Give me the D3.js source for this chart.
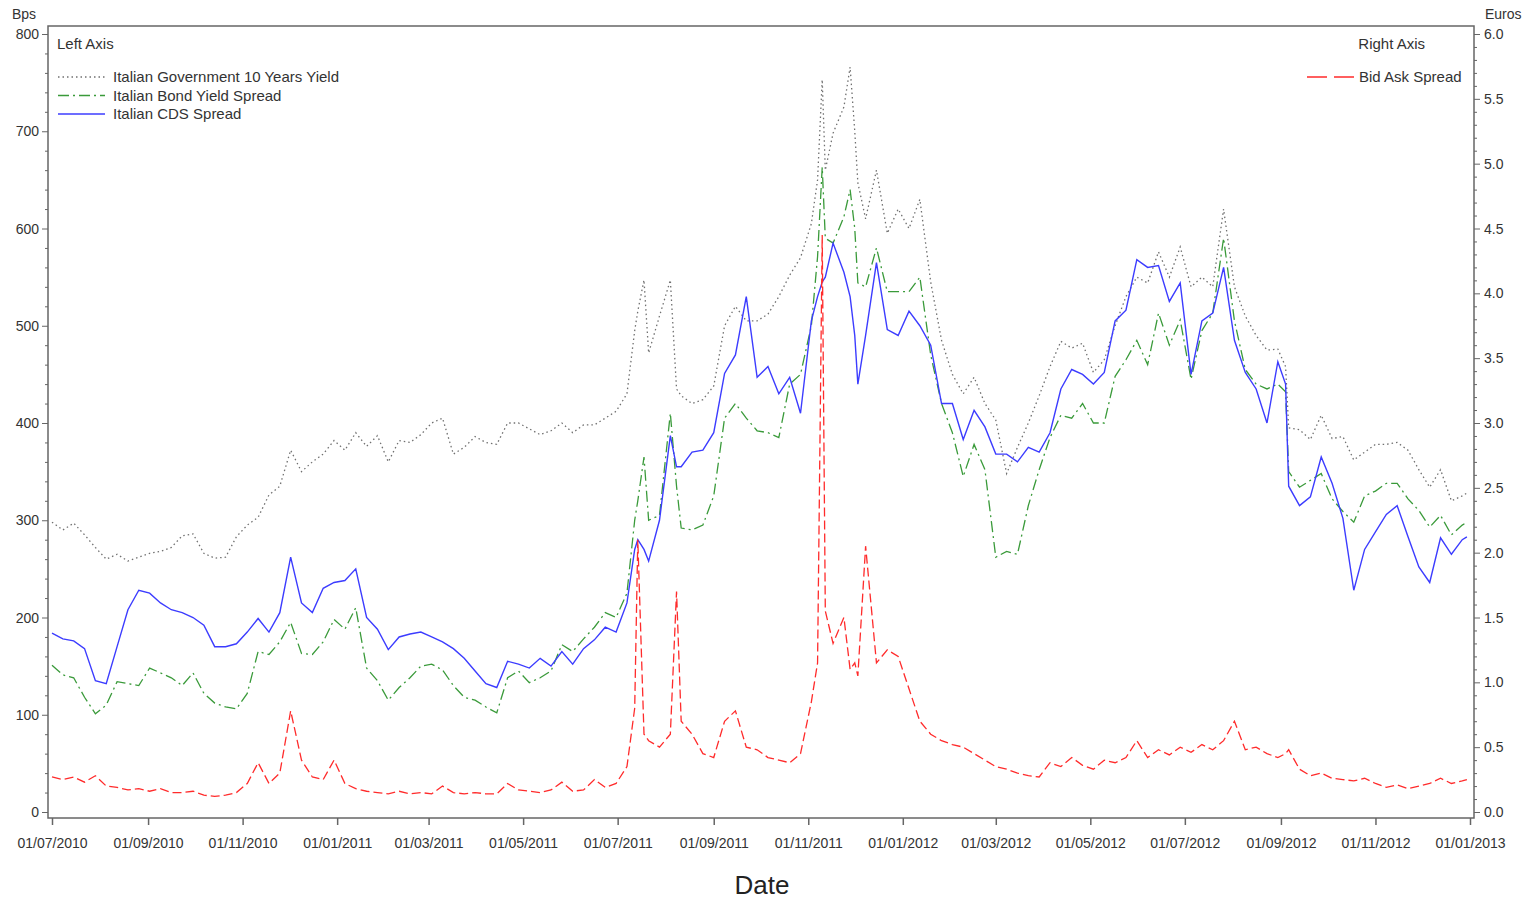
<!DOCTYPE html>
<html>
<head>
<meta charset="utf-8">
<script src="https://cdn.jsdelivr.net/npm/d3@7"></script>
<style>
  body { margin: 0; background: #fff; }
  svg { display: block; font-family: "Liberation Sans", Arial, sans-serif; }
</style>
</head>
<body>
<svg id="chart" width="1533" height="900"></svg>
<script>
// Data -----------------------------------------
var dates = [
  "2010-07-01","2010-07-08","2010-07-15","2010-07-22","2010-07-29","2010-08-05","2010-08-12","2010-08-19","2010-08-26","2010-09-02",
  "2010-09-09","2010-09-16","2010-09-23","2010-09-30","2010-10-07","2010-10-14","2010-10-21","2010-10-28","2010-11-04","2010-11-11",
  "2010-11-18","2010-11-25","2010-12-02","2010-12-09","2010-12-16","2010-12-23","2010-12-30","2011-01-06","2011-01-13","2011-01-20",
  "2011-01-27","2011-02-03","2011-02-10","2011-02-17","2011-02-24","2011-03-03","2011-03-10","2011-03-17","2011-03-24","2011-03-31",
  "2011-04-07","2011-04-14","2011-04-21","2011-04-28","2011-05-05","2011-05-12","2011-05-19","2011-05-26","2011-06-02","2011-06-09",
  "2011-06-16","2011-06-23","2011-06-30","2011-07-07","2011-07-12","2011-07-14","2011-07-18","2011-07-21","2011-07-28","2011-08-04",
  "2011-08-08","2011-08-11","2011-08-18","2011-08-25","2011-09-01","2011-09-08","2011-09-15","2011-09-22","2011-09-29","2011-10-06",
  "2011-10-13","2011-10-20","2011-10-27","2011-11-03","2011-11-07","2011-11-10","2011-11-12","2011-11-17","2011-11-24","2011-11-28",
  "2011-12-01","2011-12-03","2011-12-08","2011-12-15","2011-12-22","2011-12-29","2012-01-05","2012-01-12","2012-01-19","2012-01-26",
  "2012-02-02","2012-02-09","2012-02-16","2012-02-23","2012-03-01","2012-03-08","2012-03-15","2012-03-22","2012-03-29","2012-04-05",
  "2012-04-12","2012-04-19","2012-04-26","2012-05-03","2012-05-10","2012-05-17","2012-05-24","2012-05-31","2012-06-07","2012-06-14",
  "2012-06-21","2012-06-28","2012-07-05","2012-07-12","2012-07-19","2012-07-26","2012-08-02","2012-08-09","2012-08-16","2012-08-23",
  "2012-08-30","2012-09-04","2012-09-06","2012-09-13","2012-09-20","2012-09-27","2012-10-04","2012-10-11","2012-10-18","2012-10-25",
  "2012-11-01","2012-11-08","2012-11-15","2012-11-22","2012-11-29","2012-12-06","2012-12-13","2012-12-20","2012-12-27","2012-12-30"
];

// Bps, left axis
var govYield = [
  298,290,297,285,272,260,265,258,262,266,
  268,272,284,286,266,261,262,283,295,303,
  326,335,372,350,360,368,382,372,390,376,
  387,360,382,380,388,400,405,368,375,386,
  380,378,400,400,394,388,392,400,390,398,
  398,405,412,430,495,515,547,472,510,547,
  435,428,420,424,438,500,520,505,505,512,
  530,552,570,605,650,753,660,698,725,766,
  700,647,610,660,595,620,600,630,545,485,
  450,430,447,420,403,348,375,400,428,458,
  484,477,482,452,465,500,530,550,544,576,
  550,581,540,550,540,620,540,510,490,475,
  476,458,395,393,383,408,384,386,362,370,
  378,378,380,372,352,334,352,320,325,328
];
var bondSpread = [
  151,141,138,118,101,110,134,132,130,148,
  143,138,130,143,122,112,108,106,122,165,
  162,175,195,163,162,175,198,188,210,148,
  135,115,128,138,150,152,146,130,118,115,
  108,102,138,145,133,138,145,172,165,178,
  190,205,200,225,300,320,365,300,305,410,
  335,292,290,295,325,405,420,405,392,390,
  385,440,450,500,571,663,590,585,612,640,
  600,544,540,580,535,535,535,550,470,420,
  390,345,378,352,262,268,265,315,352,385,
  408,405,420,400,400,448,465,485,460,513,
  480,506,445,495,513,590,505,455,440,435,
  440,432,350,334,341,348,322,309,298,325,
  330,338,338,322,310,293,305,285,295,298
];
var cdsSpread = [
  184,178,176,168,135,132,170,208,228,225,
  215,208,205,200,192,170,170,173,185,199,
  185,205,262,215,205,230,236,238,250,200,
  188,167,180,183,185,180,175,168,158,145,
  132,128,155,152,148,158,150,165,152,168,
  177,190,185,215,270,280,270,258,300,387,
  355,355,370,372,390,451,470,530,447,458,
  430,447,410,505,530,545,550,585,555,530,
  490,440,490,565,496,490,515,500,480,420,
  420,383,413,396,368,368,360,375,370,390,
  435,455,450,440,452,505,516,568,560,562,
  525,544,450,505,513,560,485,452,435,400,
  463,440,335,315,324,365,338,302,228,270,
  288,306,315,283,252,236,282,265,280,283
];
// Euros, right axis
var bidAsk = [
  0.27,0.25,0.27,0.23,0.28,0.20,0.19,0.17,0.18,0.16,
  0.18,0.15,0.15,0.16,0.13,0.12,0.13,0.15,0.22,0.38,
  0.22,0.30,0.78,0.40,0.27,0.25,0.40,0.22,0.18,0.16,
  0.15,0.14,0.16,0.14,0.15,0.14,0.20,0.15,0.14,0.15,
  0.14,0.14,0.22,0.17,0.16,0.15,0.17,0.23,0.16,0.17,
  0.25,0.19,0.22,0.35,0.80,2.10,0.60,0.55,0.50,0.60,
  1.70,0.70,0.60,0.45,0.42,0.70,0.78,0.50,0.48,0.42,
  0.40,0.38,0.45,0.85,1.15,4.45,1.55,1.30,1.50,1.10,
  1.15,1.05,2.05,1.15,1.25,1.20,0.95,0.70,0.60,0.55,
  0.52,0.50,0.45,0.40,0.35,0.33,0.30,0.28,0.27,0.38,
  0.35,0.42,0.36,0.33,0.40,0.38,0.42,0.55,0.42,0.48,
  0.44,0.50,0.46,0.52,0.48,0.55,0.70,0.48,0.50,0.45,
  0.42,0.45,0.48,0.33,0.28,0.30,0.26,0.25,0.24,0.26,
  0.22,0.19,0.21,0.18,0.20,0.22,0.26,0.22,0.24,0.25
];

var leftTicks = [0, 100, 200, 300, 400, 500, 600, 700, 800];
var rightTicks = [0, 0.5, 1, 1.5, 2, 2.5, 3, 3.5, 4, 4.5, 5, 5.5, 6];

var series = [
  { name: "Italian Government 10 Years Yield", values: govYield, color: "#707070", dash: "1.5,3", width: 1.3, axis: "left" },
  { name: "Italian Bond Yield Spread", values: bondSpread, color: "#3a9a3a", dash: "11,4,2,4", width: 1.3, axis: "left" },
  { name: "Italian CDS Spread", values: cdsSpread, color: "#3c3cff", dash: null, width: 1.4, axis: "left" },
  { name: "Bid Ask Spread", values: bidAsk, color: "#ff2b2b", dash: "9,4", width: 1.3, axis: "right" }
];

// Layout ---------------------------------------
var svg = d3.select("#chart");
var frame = { left: 48, right: 1474, top: 26, bottom: 818 };
var textColor = "#333";
var parse = d3.timeParse("%Y-%m-%d");
var t = dates.map(parse);

var x = d3.scaleTime()
  .domain([parse("2010-07-01"), parse("2013-01-01")])
  .range([52, 1470]);
var yLeft = d3.scaleLinear().domain([0, 800]).range([812, 34]);
var yRight = d3.scaleLinear().domain([0, 6]).range([812, 34]);

svg.append("rect").attr("width", 1533).attr("height", 900).attr("fill", "#fff");

// Axes -----------------------------------------
var axisColor = "#666";

// left
var gl = svg.append("g").attr("transform", "translate(" + frame.left + ",0)");
gl.call(d3.axisLeft(yLeft).tickValues(d3.range(0, 801, 20)).tickSize(3).tickFormat(""));
gl.call(function(g) {
  g.selectAll(".tick").filter(function(d) { return d % 100 === 0; }).select("line").attr("x2", -6);
});
gl.selectAll(".domain").remove();
gl.selectAll("line").attr("stroke", axisColor);
gl.selectAll(".lbl").data(leftTicks).enter().append("text")
  .attr("x", -9).attr("y", function(d) { return yLeft(d) + 5; })
  .attr("text-anchor", "end").attr("font-size", 14).attr("fill", textColor)
  .text(function(d) { return d; });

// right
var gr = svg.append("g").attr("transform", "translate(" + frame.right + ",0)");
gr.call(d3.axisRight(yRight).tickValues(d3.range(0, 61, 1).map(function(d) { return d / 10; })).tickSize(3).tickFormat(""));
gr.call(function(g) {
  g.selectAll(".tick").filter(function(d) { return Math.round(d * 10) % 5 === 0; }).select("line").attr("x2", 6);
});
gr.selectAll(".domain").remove();
gr.selectAll("line").attr("stroke", axisColor);
gr.selectAll(".lbl").data(rightTicks).enter().append("text")
  .attr("x", 10).attr("y", function(d) { return yRight(d) + 5; })
  .attr("font-size", 14).attr("fill", textColor)
  .text(function(d) { return d3.format(".1f")(d); });

// bottom
var majors = d3.timeMonth.every(2).range(parse("2010-07-01"), parse("2013-01-02"));
var minors = [];
d3.timeMonth.range(parse("2010-07-01"), parse("2013-01-01")).forEach(function(m) {
  if (m.getMonth() % 2 === 1) minors.push(m);
  minors.push(new Date(m.getFullYear(), m.getMonth(), 16));
});
var gb = svg.append("g").attr("transform", "translate(0," + frame.bottom + ")");
gb.call(d3.axisBottom(x).tickValues(minors).tickSize(4).tickFormat(""));
gb.call(d3.axisBottom(x).tickValues(majors).tickSize(7).tickFormat(d3.timeFormat("%d/%m/%Y")));
gb.selectAll(".domain").remove();
gb.selectAll("line").attr("stroke", axisColor).attr("stroke-width", 1.5);
gb.selectAll("text").attr("font-size", 14).attr("fill", textColor).attr("dy", "1.45em")
  .attr("font-family", "'Liberation Sans', Arial, sans-serif");

// frame
svg.append("rect")
  .attr("x", frame.left).attr("y", frame.top)
  .attr("width", frame.right - frame.left).attr("height", frame.bottom - frame.top)
  .attr("fill", "none").attr("stroke", axisColor).attr("stroke-width", 1.5);

// axis titles
svg.append("text").attr("x", 12).attr("y", 19).attr("font-size", 14).attr("fill", textColor).text("Bps");
svg.append("text").attr("x", 1485).attr("y", 19).attr("font-size", 14).attr("fill", textColor).text("Euros");
svg.append("text").attr("x", 762).attr("y", 894).attr("text-anchor", "middle")
  .attr("font-size", 26).attr("fill", "#222").text("Date");

// Lines ----------------------------------------
series.forEach(function(s) {
  var y = s.axis === "left" ? yLeft : yRight;
  var line = d3.line()
    .x(function(d, i) { return x(t[i]); })
    .y(function(d) { return y(d); });
  svg.append("path")
    .datum(s.values)
    .attr("fill", "none")
    .attr("stroke", s.color)
    .attr("stroke-width", s.width)
    .attr("stroke-dasharray", s.dash)
    .attr("d", line);
});

// Legends --------------------------------------
svg.append("text").attr("x", 57).attr("y", 49).attr("font-size", 15).attr("fill", textColor).text("Left Axis");
var leg = svg.selectAll(".leg").data(series.slice(0, 3)).enter().append("g")
  .attr("transform", function(d, i) { return "translate(0," + (77 + i * 18.5) + ")"; });
leg.append("line").attr("x1", 58).attr("x2", 105)
  .attr("stroke", function(d) { return d.color; })
  .attr("stroke-width", function(d) { return d.width; })
  .attr("stroke-dasharray", function(d) { return d.dash; });
leg.append("text").attr("x", 113).attr("y", 5).attr("font-size", 15).attr("fill", textColor)
  .text(function(d) { return d.name; });

svg.append("text").attr("x", 1425).attr("y", 49).attr("text-anchor", "end")
  .attr("font-size", 15).attr("fill", textColor).text("Right Axis");
var legR = svg.append("g").attr("transform", "translate(0,77)");
legR.append("line").attr("x1", 1307).attr("x2", 1354)
  .attr("stroke", series[3].color).attr("stroke-width", series[3].width).attr("stroke-dasharray", "20,7");
legR.append("text").attr("x", 1359).attr("y", 5).attr("font-size", 15).attr("fill", textColor).text(series[3].name);
</script>
</body>
</html>
